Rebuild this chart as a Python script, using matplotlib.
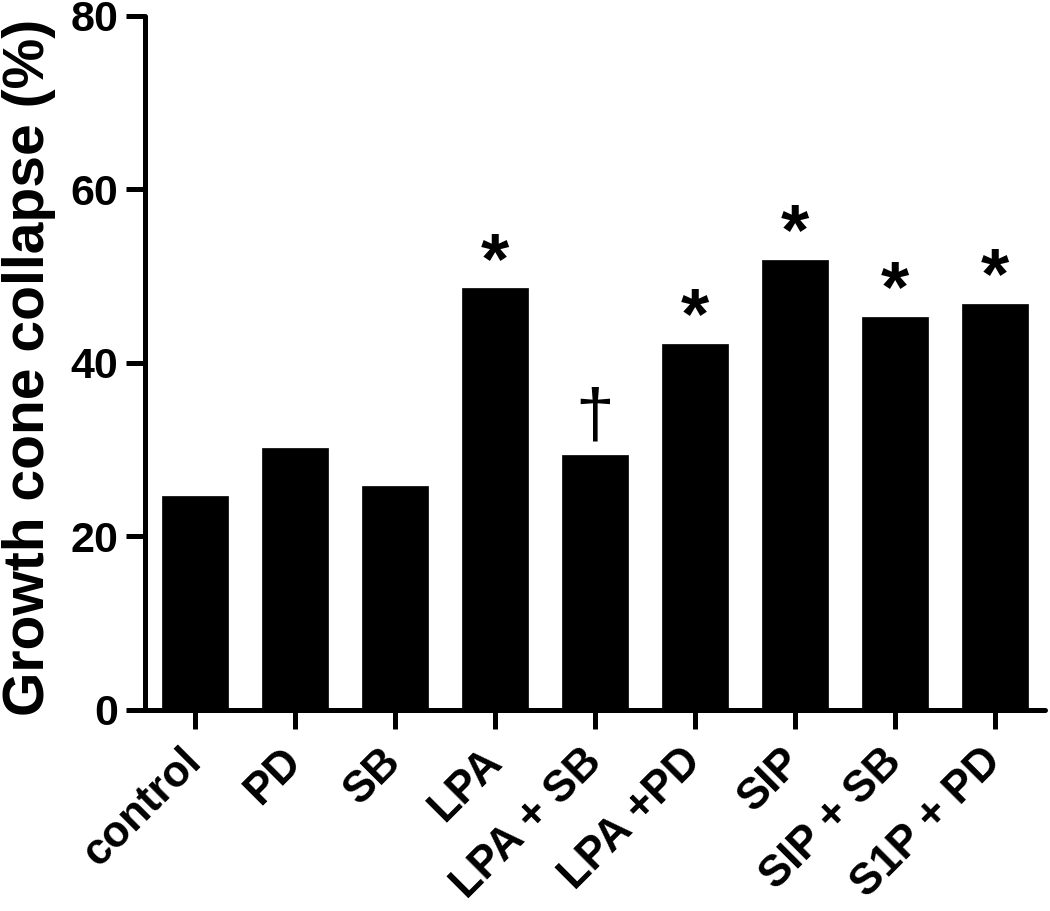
import matplotlib
matplotlib.use("Agg")
import matplotlib.pyplot as plt

# values
groups = ["control", "PD", "SB", "LPA", "LPA + SB", "LPA +PD", "SIP", "SIP + SB", "S1P + PD"]
collapse = [24.6, 30.2, 25.8, 48.6, 29.4, 42.2, 51.9, 45.3, 46.8]
marks = ["", "", "", "*", "\u2020", "*", "*", "*", "*"]
y_ticks = [0, 20, 40, 60, 80]

plt.rcParams['font.family'] = ['Liberation Sans', 'DejaVu Sans']

fig = plt.figure(figsize=(10.5, 9.11), dpi=100)
ax = fig.add_axes([145 / 1050, 1 - 709.5 / 911, 900 / 1050, (709.5 - 16) / 911])

x = list(range(len(groups)))
ax.bar(x, collapse, width=0.66, color="black", edgecolor="black", linewidth=0.5, zorder=2)

# significance marks above the bars
for xi, val, m in zip(x, collapse, marks):
    if m == "*":
        ax.annotate(m, (xi, val), xytext=(0, 4), textcoords="offset points",
                    ha="center", va="baseline", fontsize=52, fontweight="bold")
    elif m:
        ax.annotate(m, (xi, val), xytext=(0, 13), textcoords="offset points",
                    ha="center", va="baseline", fontsize=50)

ax.set_xlim(-0.5, 8.5)
ax.set_ylim(0, 80)
ax.set_yticks(y_ticks)
ax.set_yticklabels([str(t) for t in y_ticks], fontsize=31, fontweight="bold")
ax.set_xticks(x)
ax.set_xticklabels(groups, fontsize=31.5, fontweight="bold", rotation=45,
                   ha="right", va="center", rotation_mode="anchor")

for side in ["top", "right"]:
    ax.spines[side].set_visible(False)
for side in ["left", "bottom"]:
    ax.spines[side].set_linewidth(3.6)
    ax.spines[side].set_capstyle("round")

ax.tick_params(axis="both", width=3.6, length=14, color="black")
ax.tick_params(axis="x", pad=19)
ax.tick_params(axis="y", pad=5)

fig.text(2 / 1050, 1 - 367 / 911, "Growth cone collapse (%)", rotation=90,
         ha="left", va="center", fontsize=41, fontweight="bold")

fig.savefig("out.png", dpi=100)
